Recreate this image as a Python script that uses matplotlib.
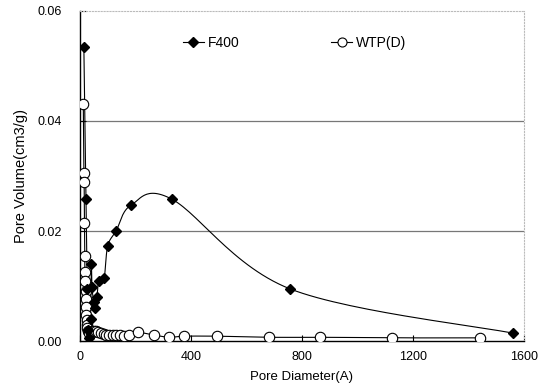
import numpy as np
import matplotlib.pyplot as plt

plt.rcParams['font.family'] = ['Liberation Sans', 'DejaVu Sans']

# F400 (diamonds)
f400_x = [14, 22, 26, 30, 34, 38, 41, 43, 50, 54, 61, 68, 87, 100, 130, 184, 331, 757, 1561]
f400_y = [0.0535, 0.0258, 0.0095, 0.002, 0.0005, 0.004, 0.014, 0.0098, 0.0071, 0.006,
          0.008, 0.011, 0.0115, 0.0173, 0.020, 0.0247, 0.0258, 0.0095, 0.00145]

# WTP(D) (open circles)
wtp_x = [12, 14, 15, 16, 17, 18, 19, 20, 21, 22, 23, 24, 25, 27, 29, 31, 34, 38, 43, 50,
         58, 66, 75, 85, 95, 106, 118, 131, 145, 160, 176, 209, 267, 321, 375, 494, 681,
         865, 1124, 1441]
wtp_y = [0.043, 0.0305, 0.029, 0.0215, 0.0155, 0.0125, 0.011, 0.0092, 0.0077, 0.0062,
         0.0048, 0.0038, 0.003, 0.0024, 0.0019, 0.0016, 0.0014, 0.0015, 0.0018, 0.0019,
         0.0018, 0.0016, 0.0014, 0.0013, 0.0012, 0.0012, 0.0011, 0.0011, 0.0012, 0.0010,
         0.0011, 0.0016, 0.0011, 0.0007, 0.0009, 0.0009, 0.0007, 0.0007, 0.0006, 0.0006]


def smooth(x, y, n=30):
    # excel-like bezier smoothing through the points
    p = np.column_stack([x, y]).astype(float)
    p = np.vstack([p[0], p, p[-1]])
    out = []
    t = np.linspace(0, 1, n)[:, None]
    for i in range(1, len(p) - 2):
        p0, p1, p2, p3 = p[i - 1], p[i], p[i + 1], p[i + 2]
        c1 = p1 + (p2 - p0) / 6
        c2 = p2 - (p3 - p1) / 6
        seg = ((1 - t) ** 3) * p1 + 3 * ((1 - t) ** 2) * t * c1 + 3 * (1 - t) * t ** 2 * c2 + t ** 3 * p2
        out.append(seg)
    out = np.vstack(out)
    return out[:, 0], out[:, 1]


fig = plt.figure(figsize=(5.44, 3.89), dpi=100)
ax = fig.add_axes([0.147, 0.123, 0.816, 0.849])

for yy in [0.02, 0.04]:
    ax.axhline(yy, color='#777777', lw=0.9, zorder=1)

sx, sy = smooth(f400_x, f400_y)
ax.plot(sx, sy, color='black', lw=0.8, zorder=2)
sx, sy = smooth(wtp_x, wtp_y)
ax.plot(sx, sy, color='black', lw=0.8, zorder=2)

ax.plot(f400_x, f400_y, ls='none', marker='D', ms=5, color='black', zorder=4)
ax.plot(wtp_x, wtp_y, ls='none', marker='o', ms=7.5, mfc='white', mec='black', mew=0.8, zorder=3)

# legend handles
h1, = ax.plot([], [], color='black', lw=0.8, marker='D', ms=5.5)
h2, = ax.plot([], [], color='black', lw=0.8, marker='o', ms=6.5, mfc='white', mew=0.8)
ax.legend([h1, h2], ['F400', 'WTP(D)'], ncol=2, frameon=False, fontsize=10,
          loc='center left', bbox_to_anchor=(0.232, 0.903), borderaxespad=0,
          borderpad=0, handlelength=1.5, columnspacing=6.6, handletextpad=0.3)

ax.set_xlim(0, 1600)
ax.set_ylim(0, 0.06)
ax.set_xticks([0, 400, 800, 1200, 1600])
ax.set_yticks([0, 0.02, 0.04, 0.06])
ax.set_yticklabels(['0.00', '0.02', '0.04', '0.06'])
ax.tick_params(direction='in', length=4, width=0.8, labelsize=9)
ax.tick_params(axis='y', pad=13)
ax.tick_params(axis='x', pad=7)

ax.set_xlabel('Pore Diameter(A)', fontsize=9.5, labelpad=6)
ax.set_ylabel('Pore Volume(cm3/g)', fontsize=10.5, labelpad=7)

for s in ['top', 'right']:
    ax.spines[s].set_color('#bbbbbb')
    ax.spines[s].set_linestyle(':')
    ax.spines[s].set_linewidth(0.8)
for s in ['left', 'bottom']:
    ax.spines[s].set_linewidth(1.0)

fig.savefig('out.png', dpi=100)
